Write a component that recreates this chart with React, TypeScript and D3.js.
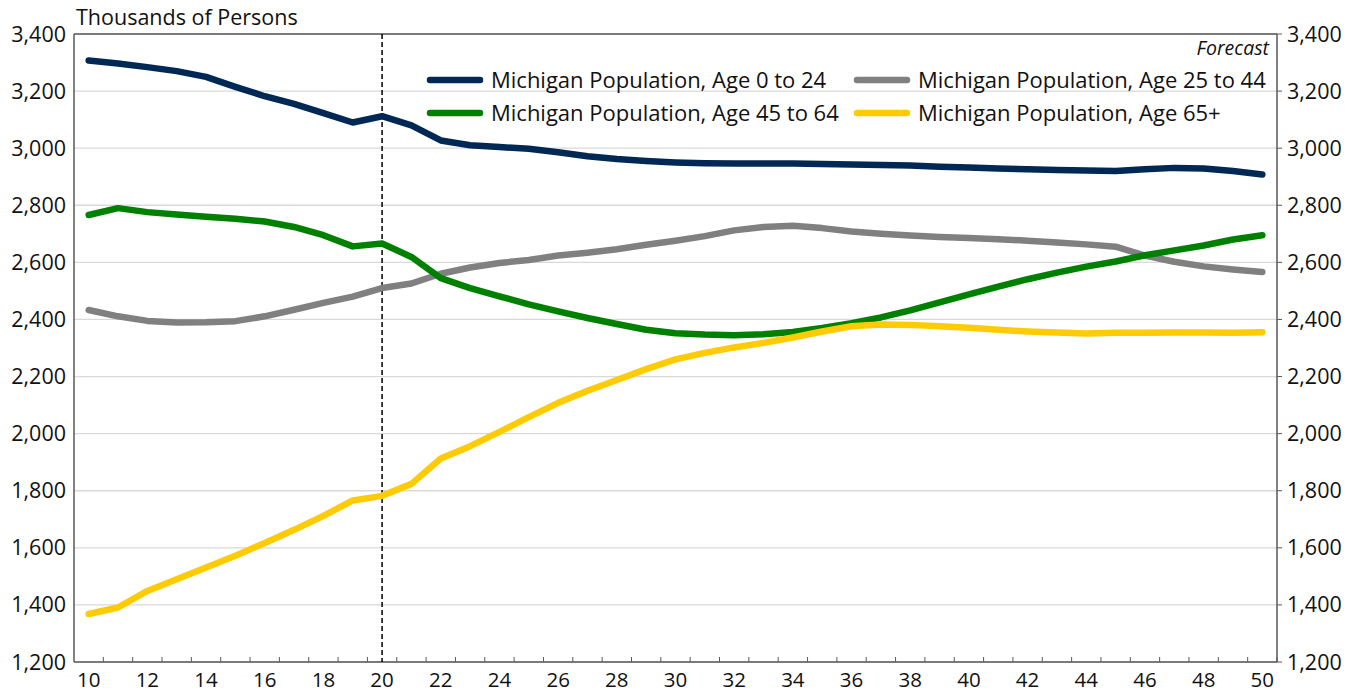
import React from 'react';
import * as d3 from 'd3';

// years 2010..2050 shown as two-digit labels
const years = [10, 11, 12, 13, 14, 15, 16, 17, 18, 19, 20, 21, 22, 23, 24, 25, 26, 27, 28, 29, 30,
  31, 32, 33, 34, 35, 36, 37, 38, 39, 40, 41, 42, 43, 44, 45, 46, 47, 48, 49, 50];

const age0to24 = [3307, 3297, 3284, 3270, 3250, 3215, 3182, 3155, 3123, 3090, 3112, 3080, 3027, 3010, 3004, 2998, 2986,
  2972, 2962, 2955, 2950, 2947, 2946, 2946, 2946, 2945, 2943, 2941, 2939, 2935, 2932, 2929, 2926, 2924, 2922, 2920,
  2926, 2931, 2929, 2920, 2908];

const age25to44 = [2433, 2411, 2395, 2389, 2390, 2394, 2411, 2434, 2458, 2480, 2510, 2526, 2560, 2582, 2598, 2608, 2624,
  2634, 2646, 2662, 2676, 2692, 2712, 2724, 2728, 2720, 2708, 2700, 2694, 2689, 2685, 2681, 2676, 2670, 2663, 2655,
  2624, 2602, 2586, 2575, 2566];

const age45to64 = [2766, 2790, 2776, 2768, 2760, 2753, 2743, 2724, 2695, 2656, 2666, 2619, 2545, 2510, 2481, 2453, 2428,
  2405, 2384, 2364, 2352, 2347, 2345, 2348, 2356, 2370, 2387, 2407, 2432, 2460, 2488, 2515, 2541, 2564, 2585, 2603,
  2625, 2642, 2659, 2680, 2695];

const age65plus = [1368, 1391, 1449, 1490, 1531, 1572, 1617, 1663, 1712, 1766, 1782, 1824, 1913, 1956, 2006, 2058, 2108,
  2150, 2188, 2226, 2260, 2283, 2302, 2318, 2337, 2358, 2376, 2382, 2381, 2376, 2371, 2364, 2358, 2354, 2351, 2353,
  2353, 2354, 2354, 2353, 2355];

const seriesNames = [
  'Michigan Population, Age 0 to 24',
  'Michigan Population, Age 25 to 44',
  'Michigan Population, Age 45 to 64',
  'Michigan Population, Age 65+',
];
const seriesColors = ['#002855', '#808080', '#008000', '#FFCB05'];
const yTicks = [1200, 1400, 1600, 1800, 2000, 2200, 2400, 2600, 2800, 3000, 3200, 3400];
const forecastStart = 20;

const font = '"Open Sans", sans-serif';
const fs = 21.5;

export default function App() {
  const width = 1360;
  const height = 694;
  const margin = { top: 34, right: 83, bottom: 32, left: 74 };

  const xScale = d3.scaleBand<number>()
    .domain(years)
    .range([margin.left, width - margin.right])
    .padding(0);
  const bw = xScale.bandwidth();
  const cx = (yr: number) => (xScale(yr) as number) + bw / 2;

  const yScale = d3.scaleLinear()
    .domain([1200, 3400])
    .range([height - margin.bottom, margin.top]);

  const fmt = d3.format(',');
  const allSeries = [age0to24, age25to44, age45to64, age65plus];

  const lineGen = d3.line<number>()
    .x((d, i) => cx(years[i]))
    .y(d => yScale(d));

  const x0 = margin.left;
  const x1 = width - margin.right;
  const yTop = margin.top;
  const yBot = height - margin.bottom;

  // legend layout: two columns, two rows
  const legendCols = [430, 857];
  const legendRows = [80, 113];

  return (
    <svg width={width} height={height} style={{ position: 'absolute', left: 0, top: 0, background: '#fff' }}>
      {/* gridlines */}
      {yTicks.map(t => (
        <line key={'g' + t} x1={x0} x2={x1} y1={yScale(t)} y2={yScale(t)} stroke="#d9d9d9" strokeWidth={1.3} />
      ))}

      {/* frame */}
      <line x1={x0} x2={x1} y1={yTop} y2={yTop} stroke="#595959" strokeWidth={1.3} />
      <line x1={x0} x2={x0} y1={yTop} y2={yBot} stroke="#595959" strokeWidth={1.5} />
      <line x1={x1} x2={x1} y1={yTop} y2={yBot} stroke="#595959" strokeWidth={1.5} />
      <line x1={x0} x2={x1} y1={yBot} y2={yBot} stroke="#595959" strokeWidth={1.5} />

      {/* x ticks at category boundaries */}
      {years.map(yr => (
        <line key={'xt' + yr} x1={(xScale(yr) as number) + bw} x2={(xScale(yr) as number) + bw}
          y1={yBot} y2={yBot - 5} stroke="#595959" strokeWidth={1} />
      ))}

      {/* right axis ticks */}
      {yTicks.map(t => (
        <line key={'rt' + t} x1={x1} x2={x1 + 5} y1={yScale(t)} y2={yScale(t)} stroke="#595959" strokeWidth={1} />
      ))}

      {/* y labels */}
      {yTicks.map(t => (
        <text key={'yl' + t} x={x0 - 8} y={yScale(t)} dy="0.35em" textAnchor="end"
          fontFamily={font} fontSize={fs} fill="#111">{fmt(t)}</text>
      ))}
      {yTicks.map(t => (
        <text key={'yr' + t} x={x1 + 10} y={yScale(t)} dy="0.35em" textAnchor="start"
          fontFamily={font} fontSize={fs} fill="#111">{fmt(t)}</text>
      ))}

      {/* x labels */}
      {years.filter(yr => yr % 2 === 0).map(yr => (
        <text key={'xl' + yr} x={cx(yr)} y={yBot + 25} textAnchor="middle"
          fontFamily={font} fontSize={20.5} fill="#111">{yr}</text>
      ))}

      <text x={x0 + 2} y={25} fontFamily={font} fontSize={fs} fill="#111">Thousands of Persons</text>

      {/* forecast divider */}
      <line x1={cx(forecastStart)} x2={cx(forecastStart)} y1={yTop} y2={yBot}
        stroke="#000" strokeWidth={1.5} strokeDasharray="5,3" />

      {/* series */}
      {allSeries.map((s, i) => (
        <path key={'s' + i} d={lineGen(s) || ''} fill="none" stroke={seriesColors[i]}
          strokeWidth={6.5} strokeLinejoin="round" strokeLinecap="round" />
      ))}

      {/* legend */}
      <text x={x1 - 8} y={55} textAnchor="end" fontFamily={font} fontStyle="italic" fontSize={19.5} fill="#111">Forecast</text>
      {seriesNames.map((name, i) => {
        const lx = legendCols[i % 2];
        const ly = legendRows[Math.floor(i / 2)];
        return (
          <g key={'lg' + i}>
            <line x1={lx} x2={lx + 50} y1={ly} y2={ly} stroke={seriesColors[i]} strokeWidth={6.5} strokeLinecap="round" />
            <text x={lx + 61} y={ly} dy="0.35em" fontFamily={font} fontSize={22} fill="#111">{name}</text>
          </g>
        );
      })}
    </svg>
  );
}
